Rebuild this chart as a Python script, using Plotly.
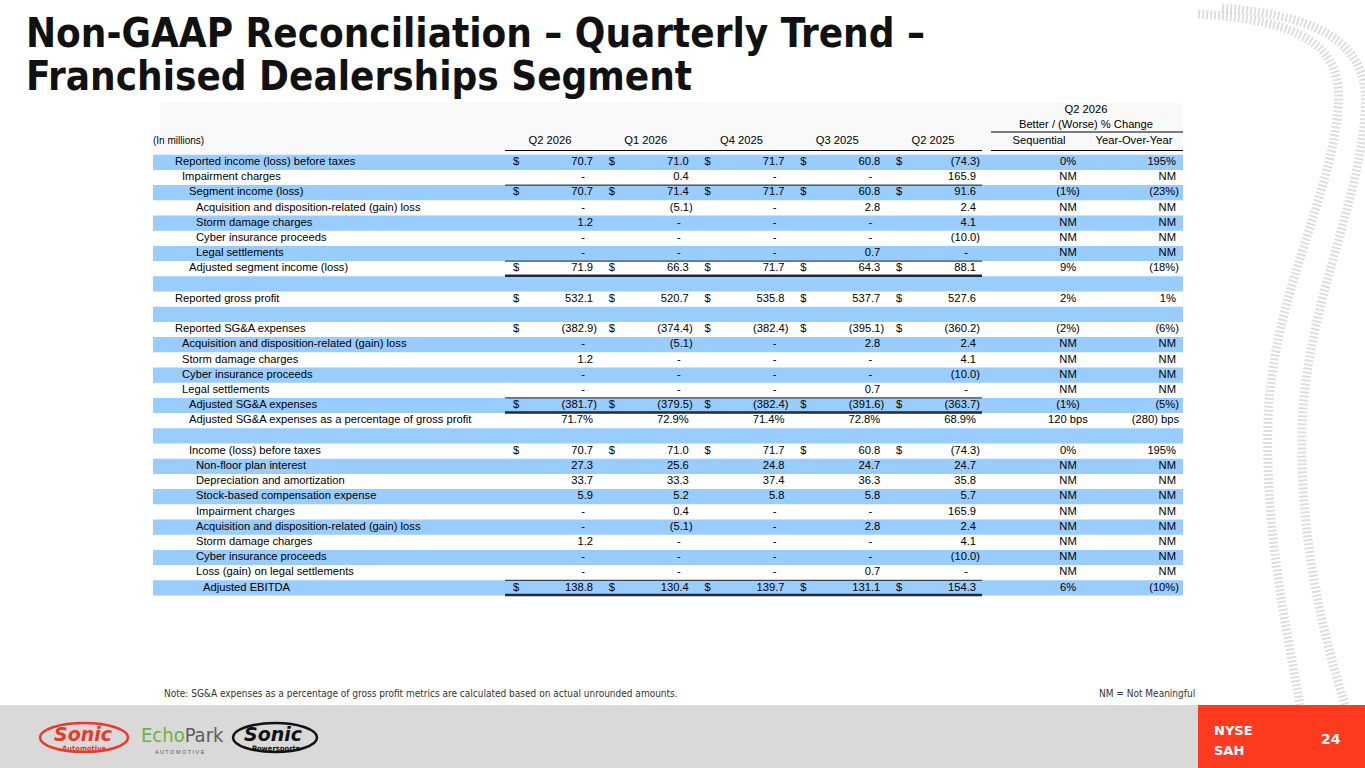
import plotly.graph_objects as go

# ---------------- data ----------------
title_line1 = "Non-GAAP Reconciliation – Quarterly Trend –"
title_line2 = "Franchised Dealerships Segment"

quarters = ["Q2 2026", "Q1 2026", "Q4 2025", "Q3 2025", "Q2 2025"]
change_group = ["Q2 2026", "Better / (Worse) % Change"]
change_headers = ["Sequential", "Year-Over-Year"]
units_label = "(In millions)"

row_labels = [
    "Reported income (loss) before taxes",
    "Impairment charges",
    "Segment income (loss)",
    "Acquisition and disposition-related (gain) loss",
    "Storm damage charges",
    "Cyber insurance proceeds",
    "Legal settlements",
    "Adjusted segment income (loss)",
    "",
    "Reported gross profit",
    "",
    "Reported SG&A expenses",
    "Acquisition and disposition-related (gain) loss",
    "Storm damage charges",
    "Cyber insurance proceeds",
    "Legal settlements",
    "Adjusted SG&A expenses",
    "Adjusted SG&A expenses as a percentage of gross profit",
    "",
    "Income (loss) before taxes",
    "Non-floor plan interest",
    "Depreciation and amortization",
    "Stock-based compensation expense",
    "Impairment charges",
    "Acquisition and disposition-related (gain) loss",
    "Storm damage charges",
    "Cyber insurance proceeds",
    "Loss (gain) on legal settlements",
    "Adjusted EBITDA",
]

q2_2026 = [70.7, 0, 70.7, 0, 1.2, 0, 0, 71.9, None, 532.1, None,
           -382.9, 0, 1.2, 0, 0, -381.7, 71.7, None,
           70.7, 27.3, 33.7, 5.9, 0, 0, 1.2, 0, 0, 138.8]
q1_2026 = [71.0, 0.4, 71.4, -5.1, 0, 0, 0, 66.3, None, 520.7, None,
           -374.4, -5.1, 0, 0, 0, -379.5, 72.9, None,
           71.0, 25.6, 33.3, 5.2, 0.4, -5.1, 0, 0, 0, 130.4]
q4_2025 = [71.7, 0, 71.7, 0, 0, 0, 0, 71.7, None, 535.8, None,
           -382.4, 0, 0, 0, 0, -382.4, 71.4, None,
           71.7, 24.8, 37.4, 5.8, 0, 0, 0, 0, 0, 139.7]
q3_2025 = [60.8, 0, 60.8, 2.8, 0, 0, 0.7, 64.3, None, 537.7, None,
           -395.1, 2.8, 0, 0, 0.7, -391.6, 72.8, None,
           60.8, 24.7, 36.3, 5.8, 0, 2.8, 0, 0, 0.7, 131.1]
q2_2025 = [-74.3, 165.9, 91.6, 2.4, 4.1, -10.0, 0, 88.1, None, 527.6, None,
           -360.2, 2.4, 4.1, -10.0, 0, -363.7, 68.9, None,
           -74.3, 24.7, 35.8, 5.7, 165.9, 2.4, 4.1, -10.0, 0, 154.3]

seq_change = ["0%", "NM", "(1%)", "NM", "NM", "NM", "NM", "9%", "", "2%", "",
              "(2%)", "NM", "NM", "NM", "NM", "(1%)", "120 bps", "",
              "0%", "NM", "NM", "NM", "NM", "NM", "NM", "NM", "NM", "6%"]
yoy_change = ["195%", "NM", "(23%)", "NM", "NM", "NM", "NM", "(18%)", "", "1%", "",
              "(6%)", "NM", "NM", "NM", "NM", "(5%)", "(280) bps", "",
              "195%", "NM", "NM", "NM", "NM", "NM", "NM", "NM", "NM", "(10%)"]

dollar_rows = [0, 2, 7, 9, 11, 16, 19, 28]
percent_rows = [17]
subtotal_rows = [2, 7, 16, 28]          # thin rule above
total_rows = [7, 16, 28]                # double rule below

note_text = "Note: SG&A expenses as a percentage of gross profit metrics are calculated based on actual unrounded amounts."
nm_text = "NM = Not Meaningful"
ticker_lines = ["NYSE", "SAH"]
page_number = "24"

# ---------------- styling / layout config ----------------
W, H = 1365, 768
FONT = "Liberation Sans, Arial, sans-serif"
NARROW = "Liberation Sans Narrow, DejaVu Sans Condensed, Arial Narrow, sans-serif"
BLUE = "#99CCFF"
ROW0, STEP = 162.3, 15.2
indent_level = [0, 1, 2, 3, 3, 3, 3, 2, 0, 0, 0, 0, 1, 1, 1, 1, 2, 2, 0,
                2, 3, 3, 3, 3, 3, 3, 3, 3, 4]
LABEL_X0, INDENT = 175, 7
DOLLAR_X0, COL_STEP = 513, 95.75
TABLE_L, TABLE_R = 153, 1183
SEQ_C, YOY_R = 1068, 1176

def row_y(i):
    return ROW0 + STEP * i

def fmt(v, pct=False):
    if v is None:
        return ""
    if v == 0:
        return "-"
    s = f"{abs(v):,.1f}" + ("%" if pct else "")
    return f"({s})" if v < 0 else s

fig = go.Figure()
shapes = []
n = len(row_labels)

# light header panel
shapes.append(dict(type="rect", x0=160, x1=TABLE_R, y0=103, y1=155,
                   fillcolor="#F9F9F9", line_width=0, layer="below"))
# alternating bands
for i in range(n):
    if i % 2 == 0:
        shapes.append(dict(type="rect", x0=TABLE_L, x1=TABLE_R,
                           y0=row_y(i) - STEP / 2, y1=row_y(i) + STEP / 2,
                           fillcolor=BLUE, line_width=0, layer="below"))

# row labels
fig.add_trace(go.Scatter(
    x=[LABEL_X0 + INDENT * indent_level[i] for i in range(n)],
    y=[row_y(i) for i in range(n)],
    text=row_labels, mode="text", textposition="middle right",
    textfont=dict(family=FONT, size=11.2, color="#000000"),
    marker=dict(size=0), hoverinfo="skip", showlegend=False))

# quarter columns
series = [q2_2026, q1_2026, q4_2025, q3_2025, q2_2025]
for k, vals in enumerate(series):
    dx = DOLLAR_X0 + COL_STEP * k
    xs, ys, ts = [], [], []
    for i, v in enumerate(vals):
        if v is None:
            continue
        t = fmt(v, pct=(i in percent_rows))
        if t == "-":
            x = dx + 72
        elif t.endswith(")"):
            x = dx + 84
        else:
            x = dx + 80
        xs.append(x); ys.append(row_y(i)); ts.append(t)
    fig.add_trace(go.Scatter(x=xs, y=ys, text=ts, mode="text",
                             textposition="middle left",
                             textfont=dict(family=FONT, size=11.2, color="#000000"),
                             marker=dict(size=0), hoverinfo="skip", showlegend=False))
    # dollar signs
    fig.add_trace(go.Scatter(x=[dx] * len(dollar_rows),
                             y=[row_y(i) for i in dollar_rows],
                             text=["$"] * len(dollar_rows), mode="text",
                             textposition="middle right",
                             textfont=dict(family=FONT, size=11.2, color="#000000"),
                             marker=dict(size=0), hoverinfo="skip", showlegend=False))
    # header
    fig.add_trace(go.Scatter(x=[dx + 37], y=[141], text=[quarters[k]], mode="text",
                             textposition="middle center",
                             textfont=dict(family=FONT, size=11.2, color="#000000"),
                             marker=dict(size=0), hoverinfo="skip", showlegend=False))

# change columns
fig.add_trace(go.Scatter(
    x=[SEQ_C] * n, y=[row_y(i) for i in range(n)], text=seq_change,
    mode="text", textposition="middle center",
    textfont=dict(family=FONT, size=11.2, color="#000000"),
    marker=dict(size=0), hoverinfo="skip", showlegend=False))
fig.add_trace(go.Scatter(
    x=[YOY_R + (3 if t.endswith(")") or t.endswith("bps") else 0) for t in yoy_change],
    y=[row_y(i) for i in range(n)], text=yoy_change,
    mode="text", textposition="middle left",
    textfont=dict(family=FONT, size=11.2, color="#000000"),
    marker=dict(size=0), hoverinfo="skip", showlegend=False))

# header texts for change columns
fig.add_trace(go.Scatter(
    x=[1039, 1134, 1086, 1086], y=[141, 141, 125, 110],
    text=[change_headers[0], change_headers[1], change_group[1], change_group[0]],
    mode="text", textposition="middle center",
    textfont=dict(family=FONT, size=11.2, color="#000000"),
    marker=dict(size=0), hoverinfo="skip", showlegend=False))
fig.add_trace(go.Scatter(
    x=[TABLE_L], y=[141], text=[units_label], mode="text", textposition="middle right",
    textfont=dict(family=FONT, size=10, color="#000000"),
    marker=dict(size=0), hoverinfo="skip", showlegend=False))

# header rules
QL, QR = DOLLAR_X0 - 8, DOLLAR_X0 + COL_STEP * 4 + 86
shapes.append(dict(type="line", x0=QL, x1=QR, y0=150.5, y1=150.5, line=dict(color="#000", width=1)))
shapes.append(dict(type="line", x0=991, x1=TABLE_R, y0=150.5, y1=150.5, line=dict(color="#000", width=1)))
shapes.append(dict(type="line", x0=991, x1=TABLE_R, y0=132, y1=132, line=dict(color="#000", width=1)))

# rules above subtotals and below totals
for i in subtotal_rows:
    yb = row_y(i) - STEP / 2
    shapes.append(dict(type="line", x0=QL, x1=QR, y0=yb, y1=yb,
                       line=dict(color="#1a1a1a", width=1)))
for i in total_rows:
    yb = row_y(i) + STEP / 2 - 0.5
    shapes.append(dict(type="line", x0=QL, x1=QR, y0=yb, y1=yb,
                       line=dict(color="#1F2B3A", width=2.5)))

# tire tracks (decoration)
track_a = "M 1198,14 C 1300,20 1345,45 1338,110 C 1330,200 1272,300 1268,420 C 1265,530 1285,620 1300,705"
track_b = "M 1222,8 C 1330,16 1372,50 1365,115 C 1358,210 1305,310 1302,430 C 1300,540 1322,630 1345,705"
for p in (track_a, track_b):
    shapes.append(dict(type="path", path=p, line=dict(color="rgba(160,160,160,0.35)", width=9, dash="2px,2px"),
                       layer="below"))

# footer
shapes.append(dict(type="rect", x0=0, x1=1198, y0=705, y1=H, fillcolor="#D9D9D9", line_width=0))
shapes.append(dict(type="rect", x0=1198, x1=W, y0=705, y1=H, fillcolor="#FF3B1F", line_width=0))
# logo ovals
shapes.append(dict(type="circle", x0=40, x1=128, y0=723, y1=752, line=dict(color="#E8392B", width=2.5)))
shapes.append(dict(type="circle", x0=233, x1=317, y0=723, y1=752, line=dict(color="#111111", width=2.5)))

annotations = [
    dict(x=24, y=33, text=title_line1, showarrow=False, xanchor="left", yanchor="middle",
         font=dict(family=NARROW, size=40, color="#111111", weight="bold")),
    dict(x=24, y=76, text=title_line2, showarrow=False, xanchor="left", yanchor="middle",
         font=dict(family=NARROW, size=40, color="#111111", weight="bold")),
    dict(x=162, y=693, text=note_text, showarrow=False, xanchor="left", yanchor="middle",
         font=dict(family=NARROW, size=10, color="#333333")),
    dict(x=1197, y=693, text=nm_text, showarrow=False, xanchor="right", yanchor="middle",
         font=dict(family=NARROW, size=10, color="#333333")),
    dict(x=1212, y=730, text=ticker_lines[0], showarrow=False, xanchor="left", yanchor="middle",
         font=dict(family="DejaVu Sans, sans-serif", size=13, color="#FFFFFF", weight="bold")),
    dict(x=1212, y=750, text=ticker_lines[1], showarrow=False, xanchor="left", yanchor="middle",
         font=dict(family="DejaVu Sans, sans-serif", size=13, color="#FFFFFF", weight="bold")),
    dict(x=1331, y=739, text=page_number, showarrow=False, xanchor="center", yanchor="middle",
         font=dict(family="DejaVu Sans, sans-serif", size=14, color="#FFFFFF", weight="bold")),
    # logos as text
    dict(x=83, y=734, text="<i><b>Sonic</b></i>", showarrow=False, xanchor="center", yanchor="middle",
         font=dict(family="DejaVu Sans, sans-serif", size=19, color="#E8392B")),
    dict(x=84, y=748, text="<b>Automotive</b>", showarrow=False, xanchor="center", yanchor="middle",
         font=dict(family=NARROW, size=7.5, color="#E8392B")),
    dict(x=139, y=735, text="<span style='color:#6DB33F'>Echo</span><span style='color:#5A5F63'>Park</span>",
         showarrow=False, xanchor="left", yanchor="middle",
         font=dict(family="Liberation Sans Narrow, DejaVu Sans Condensed, sans-serif", size=20)),
    dict(x=180, y=752, text="A U T O M O T I V E", showarrow=False, xanchor="center", yanchor="middle",
         font=dict(family=FONT, size=5.5, color="#555555")),
    dict(x=273, y=734, text="<i><b>Sonic</b></i>", showarrow=False, xanchor="center", yanchor="middle",
         font=dict(family="DejaVu Sans, sans-serif", size=19, color="#111111")),
    dict(x=276, y=748, text="<b>Powersports</b>", showarrow=False, xanchor="center", yanchor="middle",
         font=dict(family=NARROW, size=7.5, color="#111111")),
]

fig.update_layout(
    width=W, height=H, margin=dict(l=0, r=0, t=0, b=0),
    paper_bgcolor="#FFFFFF", plot_bgcolor="#FFFFFF",
    xaxis=dict(range=[0, W], visible=False, fixedrange=True),
    yaxis=dict(range=[H, 0], visible=False, fixedrange=True),
    shapes=shapes, annotations=annotations, showlegend=False,
)

fig.write_html("out.html", config={"displayModeBar": False, "staticPlot": True},
               post_script="document.body.style.margin='0';")
